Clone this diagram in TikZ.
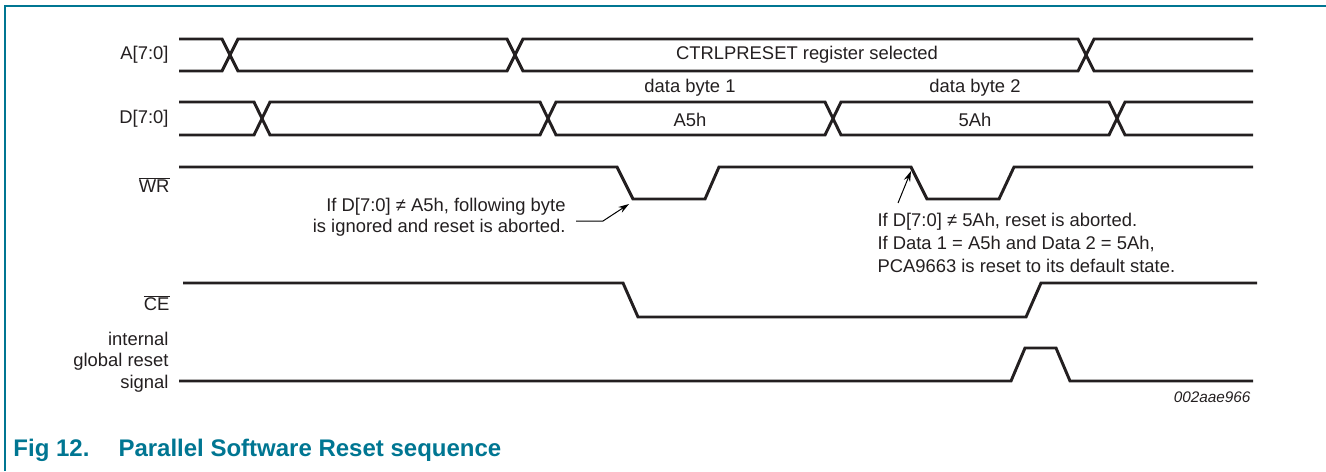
\documentclass[tikz,border=0pt]{standalone}
\usepackage{fontspec}
\setmainfont{Liberation Sans}
\usetikzlibrary{arrows.meta}

\tikzset{every picture/.style={line width=0.75pt}}
\tikzset{
  sig/.style={line width=2.2pt, line join=miter, draw={rgb, 255:red, 35; green, 31; blue, 32 }},
  frm/.style={line width=1.5pt, draw={rgb, 255:red, 0; green, 118; blue, 146 }},
  txt/.style={inner sep=0.75pt, font=\fontsize{13.8}{16}\selectfont, text={rgb, 255:red, 35; green, 31; blue, 32 }},
  capt/.style={inner sep=0.75pt, font=\fontsize{18}{20}\selectfont\bfseries, text={rgb, 255:red, 0; green, 118; blue, 146 }},
  notearr/.style={line width=0.75pt, -{Stealth[length=8pt,width=5pt]}}
}

\begin{document}
\begin{tikzpicture}[x=0.75pt,y=0.75pt,yscale=-1,xscale=1]
        \useasboundingbox (0,0) rectangle (1326,471);

        %Straight Lines: frame
        \draw [frm] (5,471) -- (5,6) -- (1326,6) ;

        %Shape: A[7:0] bus
        \draw [sig] (179,39) -- (222,39) -- (238,71) -- (507,71) -- (523,39) -- (1078,39) -- (1094,71) -- (1253,71) ;
        \draw [sig] (179,71) -- (222,71) -- (238,39) -- (507,39) -- (523,71) -- (1078,71) -- (1094,39) -- (1253,39) ;
        %Shape: D[7:0] bus
        \draw [sig] (179,102) -- (254,102) -- (270,135) -- (540,135) -- (556,102) -- (825,102) -- (841,135) -- (1109,135) -- (1125,102) -- (1253,102) ;
        \draw [sig] (179,135) -- (254,135) -- (270,102) -- (540,102) -- (556,135) -- (825,135) -- (841,102) -- (1109,102) -- (1125,135) -- (1253,135) ;
        %Straight Lines: WR
        \draw [sig] (179,167) -- (617,167) -- (633,199) -- (705,199) -- (719,167) -- (911,167) -- (927,199) -- (999,199) -- (1014,167) -- (1253,167) ;
        %Straight Lines: CE
        \draw [sig] (183,283) -- (623,283) -- (638,317) -- (1026,317) -- (1041,283) -- (1257,283) ;
        %Straight Lines: internal global reset
        \draw [sig] (179,381) -- (1011,381) -- (1025,348) -- (1056,348) -- (1070,381) -- (1253,381) ;

        % Text Node
        \draw (170,55) node [anchor=east][txt] (lblA) {A[7:0]};
        % Text Node
        \draw (170,119) node [anchor=east][txt] (lblD) {D[7:0]};
        % Text Node
        \draw (171,185) node [anchor=east][txt] (lblWR) {$\overline{\mbox{WR}}$};
        % Text Node
        \draw (171,303) node [anchor=east][txt] (lblCE) {$\overline{\mbox{CE}}$};
        % Text Node
        \draw (170,362) node [anchor=east][txt, align=right] (lblRst) {internal\\global reset\\signal};

        % Text Node
        \draw (807,55) node [txt] (selA) {CTRLPRESET register selected};
        % Text Node
        \draw (690,88) node [txt] (byte1) {data byte 1};
        % Text Node
        \draw (690,120) node [txt] (valA5) {A5h};
        % Text Node
        \draw (975,88) node [txt] (byte2) {data byte 2};
        % Text Node
        \draw (975,120) node [txt] (val5A) {5Ah};

        % Text Node
        \draw (567,217) node [anchor=east][txt, align=right] (note1) {If D[7:0] ≠ A5h, following byte\\is ignored and reset is aborted.};
        % Text Node
        \draw (876,243) node [anchor=west][txt, align=left, font=\fontsize{13.8}{17}\selectfont] (note2) {If D[7:0] ≠ 5Ah, reset is aborted.\\If Data 1 = A5h and Data 2 = 5Ah,\\PCA9663 is reset to its default state.};

        %Straight Lines: notes
        \coordinate (n1a) at (576,221);
        \coordinate (n1b) at (603,221);
        \coordinate (n1tip) at (629,204);
        \draw [notearr] (n1a) -- (n1b) -- (n1tip) ;
        \coordinate (n2a) at (898,203);
        \coordinate (n2tip) at (911,171);
        \draw [notearr] (n2a) -- (n2tip) ;

        % Text Node
        \draw (1252,397) node [anchor=east][txt, font=\fontsize{11.5}{14}\selectfont\itshape] (figid) {002aae966};

        % Text Node
        \draw (12,450) node [anchor=west][capt] (capnum) {Fig 12.};
        % Text Node
        \draw (117,450) node [anchor=west][capt] (captxt) {Parallel Software Reset sequence};
\end{tikzpicture}
\end{document}
